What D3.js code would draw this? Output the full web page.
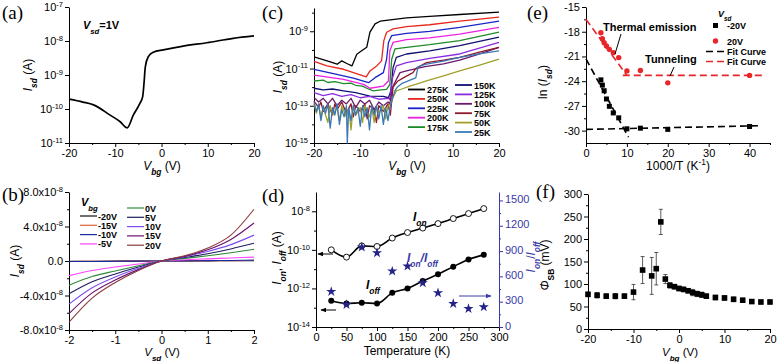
<!DOCTYPE html>
<html><head><meta charset="utf-8">
<script src="https://cdn.jsdelivr.net/npm/d3@7"></script>
<style>
body{margin:0;background:#fff}
svg{font-family:"Liberation Sans",Arial,sans-serif}
</style></head><body>
<svg id="fig" width="778" height="362"></svg>
<script>
// ---------- data ----------
// (a) transfer curve, Vsd = 1V
const aVbg = [-20,-17,-14.7,-11.1,-9,-7.4,-6.1,-4.65,-4.07,-3.78,-3.5,-2.85,-1.77,0.4,4.7,9.8,15.5,20]
const aIsd = [1.95e-10,1.6e-10,1.32e-10,6.6e-11,4.3e-11,2.8e-11,6.6e-11,1.48e-10,2.3e-10,5.75e-10,1.74e-9,3.47e-9,4.68e-9,5.5e-9,7.1e-9,8.9e-9,1.2e-8,1.41e-8]

// (b) output curves, Isd in units of 1e-8 A
const bVsd = [-2,-1.5,-1,-0.5,0,0.5,1,1.5,2]
const bVbg = ["-20V","-15V","-10V","-5V","0V","5V","10V","15V","20V"]
const bColors = ["#111111","#e0603a","#1a2aa0","#ff44ff","#2e8a3a","#1c1c60","#7a4ef0","#6a1070","#8a3a3a"]
const bIsd = [
  [-0.04,-0.03,-0.02,-0.01,0,0.01,0.02,0.03,0.04],
  [-0.05,-0.04,-0.03,-0.01,0,0.01,0.03,0.04,0.06],
  [-0.06,-0.05,-0.03,-0.01,0,0.02,0.04,0.06,0.1],
  [-1.7,-1.1,-0.7,-0.35,0,0.15,0.25,0.35,0.45],
  [-2.8,-1.8,-1.15,-0.55,0,0.3,0.6,0.95,1.35],
  [-3.8,-2.4,-1.5,-0.7,0,0.4,0.85,1.4,2.05],
  [-5.0,-3.1,-1.85,-0.85,0,0.5,1.1,1.9,3.0],
  [-6.1,-3.7,-2.2,-1.0,0,0.55,1.3,2.5,4.4],
  [-7.1,-4.3,-2.5,-1.1,0,0.6,1.5,3.0,6.0]
]

// (c) transfer curves vs temperature, [Vbg, log10 Isd]
const cTemps = ["275K","250K","225K","200K","175K","150K","125K","100K","75K","50K","25K"]
const cColors = ["#000000","#e8281e","#1a22c8","#f020e0","#1e8c28","#101070","#8a2be2","#6a1a6a","#8b1a2b","#a0a028","#3a78b5"]
const cCurves = [
  [[-20,-10.37],[-17,-10.6],[-15,-10.77],[-14,-10.59],[-12.9,-10.73],[-11.8,-10.86],[-10.75,-10.23],[-9.7,-10.05],[-8.6,-9.86],[-7.9,-9.05],[-6.8,-8.6],[-5.7,-8.46],[0,-8.28],[5,-8.2],[11.5,-8.1],[20,-7.97]],
  [[-20,-10.62],[-17.2,-10.86],[-13.6,-11.04],[-10,-11.34],[-8.7,-11.45],[-7.9,-11.13],[-6.45,-10.86],[-5.4,-10.59],[-4.9,-9.5],[-4.3,-9.05],[-2.9,-8.87],[0,-8.75],[5,-8.65],[11.5,-8.46],[20,-8.24]],
  [[-20,-11.04],[-15.8,-11.27],[-11.5,-11.52],[-8.2,-11.76],[-6.8,-11.49],[-5.0,-11.22],[-4.3,-10.5],[-3.9,-9.6],[-3.2,-9.23],[0,-9.11],[5,-9.0],[11.5,-8.79],[20,-8.46]],
  [[-20,-11.36],[-13.6,-11.58],[-9.3,-11.85],[-7.9,-12.06],[-5.0,-11.94],[-3.9,-11.67],[-3.6,-10.05],[-2.9,-9.6],[0,-9.45],[5,-9.35],[11.5,-9.15],[20,-8.79]],
  [[-20,-11.67],[-18,-11.62],[-17,-11.75],[-15.5,-11.7],[-13.6,-11.81],[-12,-11.78],[-11,-11.9],[-9.5,-11.95],[-8.6,-12.06],[-7.2,-12.2],[-5.5,-12.15],[-4.3,-12.12],[-3.6,-11.85],[-3.2,-10.5],[-2.5,-9.95],[0,-9.86],[5,-9.72],[11.5,-9.5],[20,-9.05]],
  [[-20,-12.06],[-18,-12.15],[-16,-12.1],[-13.6,-12.2],[-11,-12.3],[-7.9,-12.48],[-5,-12.5],[-3.9,-12.57],[-3.4,-12.2],[-2.9,-10.95],[-2.2,-10.4],[0,-10.22],[5,-10.05],[11.5,-9.77],[20,-9.32]],
  [[-20,-12.3],[-18,-12.45],[-16,-12.35],[-14,-12.5],[-12,-12.4],[-10,-12.57],[-8,-12.5],[-6,-12.65],[-4,-12.6],[-3.6,-12.66],[-3,-11.49],[-2.2,-10.86],[0,-10.68],[5,-10.45],[11.5,-10.22],[20,-9.6]],
  [[-20,-12.55],[-19,-12.8],[-18,-12.6],[-17,-12.9],[-16,-12.6],[-15,-13.0],[-14,-12.7],[-13,-12.9],[-12,-12.6],[-11,-13.1],[-10,-12.7],[-9,-12.9],[-8,-12.7],[-7,-13.2],[-6,-12.8],[-5,-13.0],[-4,-12.8],[-3.6,-12.9],[-3,-12.0],[-2,-11.5],[-1.4,-11.22],[0,-11.13],[4,-10.9],[8,-10.75],[11.5,-10.55],[16,-10.2],[20,-9.86]],
  [[-20,-12.75],[-19,-13.1],[-18.5,-12.8],[-18,-13.3],[-17,-12.9],[-16,-13.5],[-15.5,-12.9],[-15,-13.2],[-14,-12.8],[-13,-13.4],[-12,-12.9],[-11.5,-13.6],[-11,-13.0],[-10,-13.3],[-9,-12.9],[-8.5,-13.7],[-8,-13.0],[-7,-13.2],[-6.5,-13.9],[-6,-13.0],[-5,-13.3],[-4,-12.9],[-3.5,-13.5],[-2.9,-12.0],[-2,-11.7],[-0.7,-11.5],[1.4,-11.22],[2,-11.0],[4.3,-10.68],[8,-10.55],[11.5,-10.4],[16,-10.1],[20,-9.86]],
  [[-20,-12.9],[-19.5,-13.4],[-19,-13.0],[-18.5,-13.6],[-18,-13.1],[-17,-13.9],[-16.5,-13.0],[-16,-13.5],[-15,-13.1],[-14.5,-13.8],[-14,-13.0],[-13,-13.6],[-12.5,-13.1],[-12,-14.3],[-11.5,-13.0],[-11,-13.5],[-10,-13.1],[-9.5,-13.9],[-9,-13.0],[-8,-13.6],[-7.5,-13.1],[-7,-13.9],[-6.5,-13.1],[-6,-13.4],[-5,-13.0],[-4.5,-13.7],[-4,-13.0],[-3.5,-12.9],[-3,-12.6],[-2.2,-12.2],[-1,-12.1],[0.7,-11.94],[2,-11.85],[4.3,-11.67],[8,-11.4],[11.5,-11.13],[16,-10.8],[20,-10.5]],
  [[-20,-12.8],[-19.5,-13.3],[-19,-12.9],[-18.5,-13.8],[-18,-13.0],[-17.5,-13.4],[-17,-12.9],[-16.5,-14.2],[-16,-13.1],[-15.5,-13.5],[-15,-12.9],[-14.5,-14.0],[-14,-13.2],[-13.5,-13.6],[-13,-13.0],[-12.8,-15.0],[-12.5,-13.1],[-12,-13.8],[-11.5,-13.0],[-11,-13.5],[-10.5,-13.1],[-10,-14.1],[-9.5,-13.0],[-9,-13.6],[-8.5,-13.1],[-8,-14.3],[-7.5,-13.0],[-7,-13.5],[-6.5,-13.0],[-6,-13.7],[-5.5,-13.0],[-5,-14.0],[-4.5,-13.1],[-4,-13.8],[-3.5,-13.0],[-3,-12.6],[-2.5,-12.2],[-2,-12.0],[-1,-11.8],[0,-11.7],[1,-11.6],[2,-11.5],[2.5,-10.9],[4.3,-10.77],[8,-10.6],[11.5,-10.4],[16,-10.2],[20,-10.05]]
]

// (d) on/off currents vs temperature
const dT = [25,50,75,100,125,150,175,200,225,250,275]
const dIon = [1.0e-10,4.2e-11,1.6e-10,1.5e-10,4.1e-10,7.9e-10,1.35e-9,2.3e-9,4.2e-9,7.6e-9,1.38e-8]
const dIoff = [2.3e-13,1.66e-13,1.8e-13,1.66e-13,5.9e-13,1.0e-12,2.4e-12,5.4e-12,1.35e-11,3.2e-11,5.5e-11]
const dRatio = [420,265,946,878,661,720,522,404,277,218,237]

// (e) Arrhenius plot
const eInvT = [3.64,4,4.44,5,5.71,6.67,8,10,13.3,20,40]
const eNeg = [-23.84,-24.48,-25.16,-26.16,-27.05,-27.85,-28.45,-29.78,-29.7,-29.85,-29.5]
const ePos = [-18.13,-18.86,-19.34,-19.74,-20.14,-20.54,-21.14,-22.75,-22.7,-24.2,-23.3]
const eFitNeg = [[[0,-21.3],[10.4,-30.8]],[[0,-29.85],[43,-29.4]]]
const eFitPos = [[[0,-16.5],[10,-23.3]],[[9,-23.3],[43,-23.3]]]

// (f) Schottky barrier height
const fVbg = [-20,-18,-16,-14,-12,-10,-8,-6,-5,-4,-3,-2,-1,0,1,2,3,4,5,6,8,10,12,14,16,18,20]
const fPhi = [77,75,73,73,73,82,131,118,134,238,111,97,94,90,88,85,81,78,76,73,70,69,66,64,61,60,60]
const fErr = [5,6,5,6,5,17,30,41,36,28,10,6,5,5,5,5,7,6,6,5,5,5,5,4,4,4,4]

// ---------- helpers ----------
const svg = d3.select("#fig")
const serif = '"Liberation Serif","Times New Roman",serif'
const plain = d => String(d)

function rich(t, parts) {
  parts.forEach(p => {
    const s = t.append("tspan").text(p[0])
    const st = p[1] || ""
    if (st.includes("i")) s.attr("font-style", "italic")
    if (st.includes("b")) s.attr("font-weight", "bold")
    if (st.includes("sub")) s.attr("baseline-shift", "sub").attr("font-size", "0.7em")
    if (st.includes("sup")) s.attr("baseline-shift", "super").attr("font-size", "0.7em")
  })
  return t
}

function axis(g, mk, scale, pos, major, minor, fmt, color) {
  color = color || "#000"
  const a = g.append("g").attr("transform", pos)
    .call(mk(scale).tickValues(major).tickSize(4).tickSizeOuter(0).tickPadding(2).tickFormat(fmt))
  if (minor.length) {
    g.append("g").attr("transform", pos)
      .call(mk(scale).tickValues(minor).tickSize(2).tickSizeOuter(0).tickFormat(""))
      .call(s => s.select(".domain").remove())
  }
  g.selectAll(".domain, .tick line").attr("stroke", color).attr("stroke-width", 1)
  a.selectAll("text").attr("font-size", 11).attr("fill", color)
    .attr("font-family", '"Liberation Sans",Arial,sans-serif')
  return a
}

function powLabels(a) {
  a.selectAll(".tick text").each(function (d) {
    const t = d3.select(this).text("10")
    t.append("tspan").attr("dy", "-0.55em").attr("font-size", "7.5px").text(Math.round(Math.log10(d)))
  })
}

function panelLabel(x, y, s) {
  svg.append("text").attr("x", x).attr("y", y).attr("font-family", serif).attr("font-size", 19).text(s)
}
function title(x, y, parts, rot, size, color) {
  const t = svg.append("text").attr("text-anchor", "middle").attr("font-size", size || 12)
    .attr("fill", color || "#000")
    .attr("transform", `translate(${x},${y})` + (rot ? " rotate(-90)" : ""))
  return rich(t, parts)
}

// ---------- (a) ----------
{
  const g = svg.append("g")
  const x = d3.scaleLinear([-20, 20], [69, 254])
  const y = d3.scaleLog([1e-11, 1e-7], [143, 7])
  axis(g, d3.axisBottom, x, "translate(0,143)", [-20,-10,0,10,20], [-15,-5,5,15], plain)
  const ay = axis(g, d3.axisLeft, y, "translate(69,0)", [1e-11,1e-10,1e-9,1e-8,1e-7], [], plain)
  powLabels(ay)
  const pts = aVbg.map((v, i) => [v, aIsd[i]])
  svg.append("path").datum(pts).attr("fill", "none").attr("stroke", "#000").attr("stroke-width", 1.7)
    .attr("d", d3.line().x(d => x(d[0])).y(d => y(d[1])).curve(d3.curveMonotoneX))
  panelLabel(2, 19, "(a)")
  rich(svg.append("text").attr("x", 83).attr("y", 29).attr("font-size", 11).attr("font-weight", "bold"),
    [["V", "ib"], ["sd", "ib sub"], ["=1V", "b"]])
  title(162, 170, [["V", "i"], ["bg", "i sub"], [" (V)"]])
  title(32, 75, [["I", "i"], ["sd", "i sub"], [" (A)"]], true)
}

// ---------- (b) ----------
{
  const g = svg.append("g")
  const x = d3.scaleLinear([-2, 2], [69, 254])
  const y = d3.scaleLinear([-8, 8], [330, 192])
  axis(g, d3.axisBottom, x, "translate(0,330)", [-2,-1,0,1,2], [-1.5,-0.5,0.5,1.5], plain)
  const ay = axis(g, d3.axisLeft, y, "translate(69,0)", [-8,-4,0,4,8], [-6,-2,2,6], plain)
  ay.selectAll(".tick text").each(function (d) {
    const t = d3.select(this)
    if (d === 0) { t.text("0.0"); return }
    t.text(d.toFixed(1) + "x10")
    t.append("tspan").attr("dy", "-0.55em").attr("font-size", "7.5px").text("-8")
  })
  const line = d3.line().x(d => x(d[0])).y(d => y(d[1])).curve(d3.curveMonotoneX)
  bIsd.forEach((c, i) => {
    svg.append("path").datum(bVsd.map((v, j) => [v, c[j]])).attr("fill", "none")
      .attr("stroke", bColors[i]).attr("stroke-width", 1.1).attr("d", line)
  })
  // legend
  rich(svg.append("text").attr("x", 81).attr("y", 206).attr("font-size", 11).attr("font-weight", "bold"),
    [["V", "ib"], ["bg", "ib sub"]])
  bVbg.forEach((s, i) => {
    const col = i < 4 ? 0 : 1
    const r = i < 4 ? i : i - 4
    const lx = col ? 127 : 80
    const ly = col ? 208 + r * 9.3 : 216 + r * 9.3
    svg.append("line").attr("x1", lx).attr("x2", lx + 17).attr("y1", ly).attr("y2", ly)
      .attr("stroke", bColors[i]).attr("stroke-width", 1.2)
    svg.append("text").attr("x", lx + 18).attr("y", ly + 3.5).attr("font-size", 9)
      .attr("font-weight", "bold").text(s)
  })
  panelLabel(2, 201, "(b)")
  title(162, 356, [["V", "i"], ["sd", "i sub"], [" (V)"]], false, 11.5)
  title(19, 261, [["I", "i"], ["sd", "i sub"], [" (A)"]], true)
}

// ---------- (c) ----------
{
  const g = svg.append("g")
  const x = d3.scaleLinear([-20, 20], [314, 499])
  const y = d3.scaleLog([1e-15, Math.pow(10, -7.75)], [143, 8])
  axis(g, d3.axisBottom, x, "translate(0,143)", [-20,-10,0,10,20], [-15,-5,5,15], plain)
  const ay = axis(g, d3.axisLeft, y, "translate(314,0)", [1e-15,1e-13,1e-11,1e-9], [1e-14,1e-12,1e-10,1e-8], plain)
  powLabels(ay)
  const line = d3.line().x(d => x(d[0])).y(d => y(Math.pow(10, d[1])))
  cCurves.forEach((c, i) => {
    svg.append("path").datum(c).attr("fill", "none").attr("stroke", cColors[i])
      .attr("stroke-width", 1.3).attr("stroke-linejoin", "round").attr("d", line)
  })
  cTemps.forEach((s, i) => {
    const col = i < 5 ? 0 : 1
    const r = i < 5 ? i : i - 5
    const lx = col ? 455 : 408
    const ly = col ? 85 + r * 9.4 : 89.5 + r * 9.4
    svg.append("line").attr("x1", lx).attr("x2", lx + 17).attr("y1", ly).attr("y2", ly)
      .attr("stroke", cColors[i]).attr("stroke-width", 1.8)
    svg.append("text").attr("x", lx + 19).attr("y", ly + 3.5).attr("font-size", 9)
      .attr("font-weight", "bold").text(s)
  })
  panelLabel(262, 19, "(c)")
  title(407, 170, [["V", "i"], ["bg", "i sub"], [" (V)"]])
  title(282, 77, [["I", "i"], ["sd", "i sub"], [" (A)"]], true)
}

// ---------- (d) ----------
{
  const blue = "#3a3aa8"
  const g = svg.append("g")
  const x = d3.scaleLinear([0, 300], [316, 499])
  const y = d3.scaleLog([1e-14, 1e-7], [327, 192])
  const yr = d3.scaleLinear([0, 1600], [327, 192])
  axis(g, d3.axisBottom, x, "translate(0,327)", [0,50,100,150,200,250,300], [25,75,125,175,225,275], plain)
  const ay = axis(g, d3.axisLeft, y, "translate(316,0)", [1e-14,1e-12,1e-10,1e-8], [1e-13,1e-11,1e-9], plain)
  powLabels(ay)
  const gr = svg.append("g")
  const ar = axis(gr, d3.axisRight, yr, "translate(499,0)", [0,300,600,900,1200,1500], [150,450,750,1050,1350], plain, blue)
  ar.selectAll(".tick text").attr("dy", "0.2em")
  const line = d3.line().x(d => x(d[0])).y(d => y(d[1])).curve(d3.curveMonotoneX)
  const on = dT.map((t, i) => [t, dIon[i]])
  const off = dT.map((t, i) => [t, dIoff[i]])
  svg.append("path").datum(on).attr("fill", "none").attr("stroke", "#000").attr("stroke-width", 1.6).attr("d", line)
  svg.append("path").datum(off).attr("fill", "none").attr("stroke", "#000").attr("stroke-width", 1.6).attr("d", line)
  svg.append("g").selectAll("circle").data(on).join("circle").attr("cx", d => x(d[0])).attr("cy", d => y(d[1]))
    .attr("r", 3).attr("fill", "#fff").attr("stroke", "#000").attr("stroke-width", 0.9)
  svg.append("g").selectAll("circle").data(off).join("circle").attr("cx", d => x(d[0])).attr("cy", d => y(d[1]))
    .attr("r", 3).attr("fill", "#000")
  svg.append("g").selectAll("path").data(dT.map((t, i) => [t, dRatio[i]])).join("path")
    .attr("transform", d => `translate(${x(d[0])},${yr(d[1])})`)
    .attr("d", d3.symbol(d3.symbolStar, 32)).attr("fill", "#232388")
  // annotations
  rich(svg.append("text").attr("x", 413).attr("y", 221).attr("font-size", 12).attr("font-weight", "bold"),
    [["I", "ib"], ["on", "ib sub"]])
  rich(svg.append("text").attr("x", 366).attr("y", 289).attr("font-size", 12).attr("font-weight", "bold"),
    [["I", "ib"], ["off", "ib sub"]])
  rich(svg.append("text").attr("x", 407).attr("y", 262).attr("font-size", 12).attr("font-weight", "bold").attr("fill", blue),
    [["I", "ib"], ["on", "ib sub"], ["/", "ib"], ["I", "ib"], ["off", "ib sub"]])
  const defs = svg.append("defs")
  ;[["ak", "#000"], ["ab", blue]].forEach(m => {
    defs.append("marker").attr("id", m[0]).attr("viewBox", "0 0 10 10").attr("refX", 9).attr("refY", 5)
      .attr("markerWidth", 6).attr("markerHeight", 6).attr("orient", "auto")
      .append("path").attr("d", "M0,1L10,5L0,9Z").attr("fill", m[1])
  })
  svg.append("line").attr("x1", 333).attr("x2", 318).attr("y1", 254).attr("y2", 254)
    .attr("stroke", "#000").attr("stroke-width", 1).attr("marker-end", "url(#ak)")
  svg.append("line").attr("x1", 336).attr("x2", 321).attr("y1", 310).attr("y2", 310)
    .attr("stroke", "#000").attr("stroke-width", 1).attr("marker-end", "url(#ak)")
  svg.append("line").attr("x1", 459).attr("x2", 491).attr("y1", 296).attr("y2", 296)
    .attr("stroke", blue).attr("stroke-width", 1).attr("marker-end", "url(#ab)")
  panelLabel(262, 202, "(d)")
  title(407, 355, [["Temperature (K)"]])
  title(281, 258, [["I", "i"], ["on", "i sub"], [", "], ["I", "i"], ["off", "i sub"], [" (A)"]], true)
  title(535, 257, [["I", "i"], ["on", "i sub"], ["/"], ["I", "i"], ["off", "i sub"]], true, 12, blue)
}

// ---------- (e) ----------
{
  const red = "#e8262a"
  const g = svg.append("g")
  const x = d3.scaleLinear([0, 45], [586, 770])
  const y = d3.scaleLinear([-31.5, -15], [143, 7])
  axis(g, d3.axisBottom, x, "translate(0,143)", [0,10,20,30,40], [5,15,25,35,45], plain)
  axis(g, d3.axisLeft, y, "translate(586,0)", [-30,-27,-24,-21,-18,-15], [-28.5,-25.5,-22.5,-19.5,-16.5], plain)
  const line = d3.line().x(d => x(d[0])).y(d => y(d[1]))
  eFitNeg.forEach(s => svg.append("path").datum(s).attr("stroke", "#000").attr("stroke-width", 1.6)
    .attr("stroke-dasharray", "7,4").attr("fill", "none").attr("d", line))
  eFitPos.forEach(s => svg.append("path").datum(s).attr("stroke", red).attr("stroke-width", 1.6)
    .attr("stroke-dasharray", "7,4").attr("fill", "none").attr("d", line))
  svg.append("g").selectAll("rect").data(eInvT.map((v, i) => [v, eNeg[i]])).join("rect")
    .attr("x", d => x(d[0]) - 2.5).attr("y", d => y(d[1]) - 2.5).attr("width", 5).attr("height", 5).attr("fill", "#000")
  svg.append("g").selectAll("circle").data(eInvT.map((v, i) => [v, ePos[i]])).join("circle")
    .attr("cx", d => x(d[0])).attr("cy", d => y(d[1])).attr("r", 2.7).attr("fill", red)
  // annotations
  svg.append("text").attr("x", 603).attr("y", 31).attr("font-size", 11).attr("font-weight", "bold").text("Thermal emission")
  svg.append("text").attr("x", 645).attr("y", 63).attr("font-size", 11).attr("font-weight", "bold").text("Tunneling")
  svg.append("line").attr("x1", 621).attr("y1", 34).attr("x2", 615).attr("y2", 54).attr("stroke", "#000")
  svg.append("line").attr("x1", 674).attr("y1", 67).attr("x2", 670).attr("y2", 76).attr("stroke", "#000")
  // legend
  rich(svg.append("text").attr("x", 718).attr("y", 17).attr("font-size", 9).attr("font-weight", "bold"),
    [["V", "ib"], ["sd", "ib sub"]])
  svg.append("rect").attr("x", 713).attr("y", 23).attr("width", 5).attr("height", 5).attr("fill", "#000")
  svg.append("circle").attr("cx", 715.5).attr("cy", 41).attr("r", 2.7).attr("fill", red)
  svg.append("line").attr("x1", 706).attr("x2", 724).attr("y1", 51.5).attr("y2", 51.5).attr("stroke", "#000")
    .attr("stroke-width", 1.6).attr("stroke-dasharray", "7,4")
  svg.append("line").attr("x1", 706).attr("x2", 724).attr("y1", 61.5).attr("y2", 61.5).attr("stroke", red)
    .attr("stroke-width", 1.6).attr("stroke-dasharray", "7,4")
  ;[["-20V", 29], ["20V", 44.5], ["Fit Curve", 55], ["Fit Curve", 65]].forEach(l =>
    svg.append("text").attr("x", 727).attr("y", l[1]).attr("font-size", 9).attr("font-weight", "bold").text(l[0]))
  panelLabel(527, 19, "(e)")
  title(678, 170, [["1000/T (K"], ["-1", "sup"], [")"]])
  title(547, 82, [["ln ("], ["I", "i"], ["sd", "i sub"], [")"]], true)
}

// ---------- (f) ----------
{
  const g = svg.append("g")
  const x = d3.scaleLinear([-20, 20], [588, 770])
  const y = d3.scaleLinear([0, 300], [329, 194])
  axis(g, d3.axisBottom, x, "translate(0,329)", [-20,-10,0,10,20], [-15,-5,5,15], plain)
  axis(g, d3.axisLeft, y, "translate(588,0)", [0,50,100,150,200,250,300], [25,75,125,175,225,275], plain)
  const pts = fVbg.map((v, i) => ({ v: v, p: fPhi[i], e: fErr[i] }))
  const eg = svg.append("g").attr("stroke", "#333").attr("stroke-width", 0.8)
  pts.forEach(d => {
    eg.append("line").attr("x1", x(d.v)).attr("x2", x(d.v)).attr("y1", y(d.p - d.e)).attr("y2", y(d.p + d.e))
    eg.append("line").attr("x1", x(d.v) - 2).attr("x2", x(d.v) + 2).attr("y1", y(d.p - d.e)).attr("y2", y(d.p - d.e))
    eg.append("line").attr("x1", x(d.v) - 2).attr("x2", x(d.v) + 2).attr("y1", y(d.p + d.e)).attr("y2", y(d.p + d.e))
  })
  svg.append("g").selectAll("rect").data(pts).join("rect")
    .attr("x", d => x(d.v) - 2.8).attr("y", d => y(d.p) - 2.8).attr("width", 5.6).attr("height", 5.6).attr("fill", "#000")
  panelLabel(536, 198, "(f)")
  title(680, 356, [["V", "i"], ["bg", "i sub"], [" (V)"]], false, 11.5)
  title(549, 265, [["Φ", "i"], ["SB", "sub"], [" (mV)"]], true)
}
</script>
</body></html>
